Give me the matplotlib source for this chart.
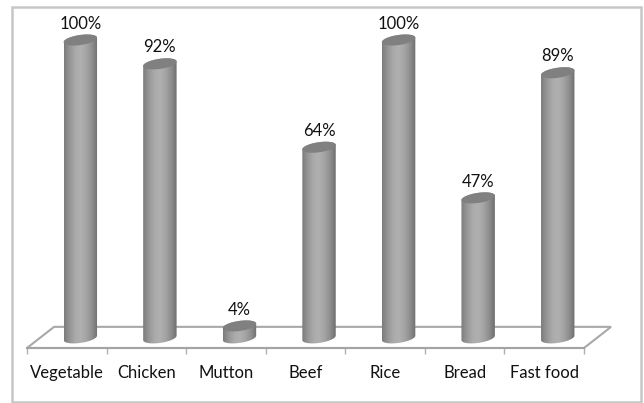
import numpy as np
import matplotlib.pyplot as plt
from matplotlib.patches import Polygon, Rectangle
from matplotlib.colors import LinearSegmentedColormap

categories = ['Vegetable', 'Chicken', 'Mutton', 'Beef', 'Rice', 'Bread', 'Fast food']
values = [100, 92, 4, 64, 100, 47, 89]

plt.rcParams['font.family'] = ['Lato', 'DejaVu Sans']

W, H = 644, 403
fig = plt.figure(figsize=(W / 100, H / 100), dpi=100)
fig.patch.set_facecolor('white')

# outer frame of the chart
fig.add_artist(Rectangle((12 / W, 1 - 402 / H), 629 / W, 395 / H, transform=fig.transFigure,
                         fill=False, ec='#c6c6c6', lw=1.8))

# axes box is the front edge of the floor up to the 100% level
ax = fig.add_axes([27 / W, 1 - 348 / H, 557 / W, 308 / H])
ax.set_xlim(-0.5, 6.5)
ax.set_ylim(-3.4, 100)
ax.patch.set_visible(False)
for side in ['top', 'left', 'right']:
    ax.spines[side].set_visible(False)
ax.spines['bottom'].set_color('#a3a3a3')
ax.spines['bottom'].set_linewidth(1.5)
ax.set_yticks([])

ax.set_xticks(range(len(categories)), categories, fontsize=12, color='#111111')
ax.set_xticks(np.arange(-0.5, 7), minor=True)
ax.tick_params(axis='x', which='major', length=0, pad=12.5)
ax.tick_params(axis='x', which='minor', length=4, width=1, color='#b0b0b0')

# floor in false 3D
depth = 0.34
floor_y = [-3.4, 3.7]
floor = Polygon([(-0.5, floor_y[0]), (-0.5 + depth, floor_y[1]),
                 (6.5 + depth, floor_y[1]), (6.5, floor_y[0])],
                closed=True, fill=False, ec='#a8a8a8', lw=1.5, clip_on=False, zorder=1)
ax.add_patch(floor)

shade = LinearSegmentedColormap.from_list(
    'cyl', ['#7c7c7c', '#969696', '#aaaaaa', '#b0b0b0', '#a4a4a4', '#8e8e8e', '#6e6e6e'])
grad = np.linspace(0, 1, 128).reshape(1, -1)

half_w = 0.21
half_h = 1.7
tilt = 0.75
t = np.linspace(0, 2 * np.pi, 80)

for i, v in enumerate(values):
    cx = i + depth / 2
    # lower half of the base ellipse and of the top ellipse
    lo = np.linspace(np.pi, 2 * np.pi, 40)
    bx = cx + half_w * np.cos(lo)
    by = half_h * np.sin(lo) + tilt * np.cos(lo)
    hi = np.linspace(0, np.pi, 40)
    tx = cx + half_w * np.cos(hi)
    ty = v + half_h * np.sin(hi) + tilt * np.cos(hi)
    body = Polygon(np.column_stack([np.r_[bx, tx], np.r_[by, ty]]), closed=True,
                   transform=ax.transData, fc='none', ec='none')
    ax.add_patch(body)
    im = ax.imshow(grad, cmap=shade, vmin=0, vmax=1, aspect='auto', zorder=2,
                   extent=(cx - half_w, cx + half_w, -4, v + 4))
    im.set_clip_box(fig.bbox)
    im.set_clip_path(body)
    # top cap
    cap = Polygon(np.column_stack([cx + half_w * np.cos(t),
                                   v + half_h * np.sin(t) + tilt * np.cos(t)]),
                  closed=True, fc='#808080', ec='none', clip_on=False, zorder=3)
    ax.add_patch(cap)
    ax.annotate(f'{v}%', (cx, v), xytext=(0, 6), textcoords='offset points', ha='center',
                va='bottom', fontsize=12, color='#111111', annotation_clip=False, zorder=4)

ax.set_xlim(-0.5, 6.5)
ax.set_ylim(-3.4, 100)

fig.savefig('out.png', dpi=100)
